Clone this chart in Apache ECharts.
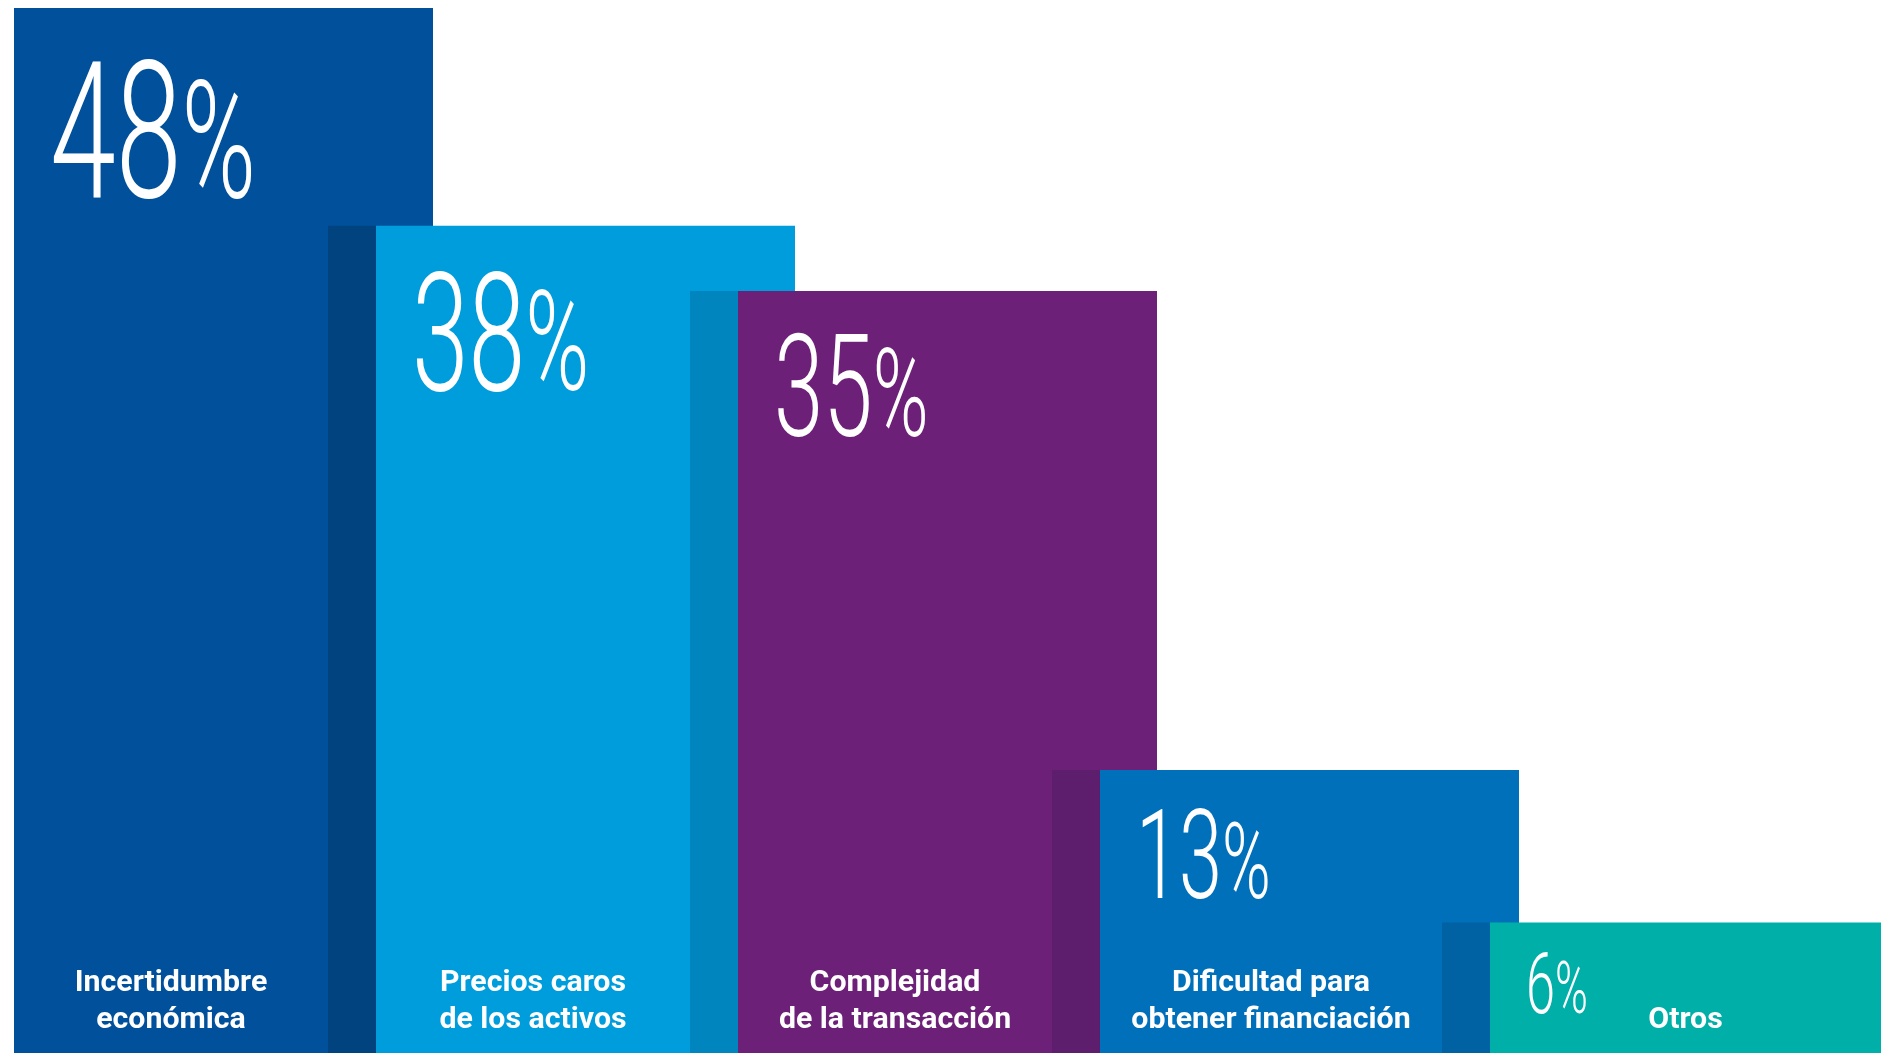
<!DOCTYPE html>
<html>
<head>
<meta charset="utf-8">
<title>Obstáculos para cerrar operaciones</title>
<script src="https://cdn.jsdelivr.net/npm/echarts@6/dist/echarts.min.js"></script>
<style>
  html, body { margin: 0; padding: 0; background: #ffffff; }
  #chart { width: 1893px; height: 1053px; }
</style>
</head>
<body>
<div id="chart"></div>
<script>
// Share of respondents citing each obstacle (%)
const categories = [
  'Incertidumbre\neconómica',
  'Precios caros\nde los activos',
  'Complejidad\nde la transacción',
  'Dificultad para\nobtener financiación',
  'Otros'
];
const shares = [48, 38, 35, 13, 6];

// Styling
const barColors  = ['#00509B', '#009DDC', '#6D2077', '#0070BA', '#00AFA8'];
const foldColors = [null, '#00437F', '#0085BE', '#5D1F6D', '#0061A3'];
const figureHeights = [136, 117, 102, 89, 60];   // digit height of each big figure, px

const MAIN_RATIO = 419 / 362;   // bar width relative to the category band
const FOLD_RATIO = 48 / 362;    // darker fold strip on the left of each bar
const LAST_INSET = 28;          // last bar starts a little later to leave room for the label before it
const FIG_SCALE_X = 0.62;       // condensed look for the figures
const PCT_SIZE = 0.85;          // percent sign relative to the digits
const LABEL_SCALE_X = 1.01;
const MIDDLE_TO_BASELINE = 0.255;
const CAP_RATIO = 0.711;

const measureCtx = document.createElement('canvas').getContext('2d');
function textWidth(str, font) {
  measureCtx.font = font;
  return measureCtx.measureText(str).width;
}

const n = shares.length;

function leftEdge(api, idx) {
  const band = api.size([1, 0])[0];
  const c = api.coord([idx, 0])[0];
  let l = c - band * MAIN_RATIO / 2;
  if (idx === n - 1) l += LAST_INSET;
  return l;
}

function renderItem(params, api) {
  const i = params.dataIndex;
  const v = api.value(1);
  const band = api.size([1, 0])[0];
  const mainW = band * MAIN_RATIO;
  const foldW = band * FOLD_RATIO;
  const topPt = api.coord([i, v]);
  const basePt = api.coord([i, 0]);
  const left = leftEdge(api, i);
  const right = basePt[0] + mainW / 2;
  const top = topPt[1];
  const bottom = basePt[1];
  const visRight = i < n - 1 ? leftEdge(api, i + 1) - foldW : right;

  const children = [];
  if (i > 0) {
    children.push({
      type: 'rect',
      shape: { x: left - foldW, y: top, width: foldW, height: bottom - top },
      style: { fill: foldColors[i] }
    });
  }
  children.push({
    type: 'rect',
    shape: { x: left, y: top, width: right - left, height: bottom - top },
    style: { fill: barColors[i] }
  });

  // big percentage figure
  const h = figureHeights[i];
  const fs = h / CAP_RATIO;
  const pfs = fs * PCT_SIZE;
  const family = 'Roboto, "Noto Sans", sans-serif';
  const digits = String(v);
  const x0 = left + 36;
  const baseline = top + 0.3 * h + 13 + h;
  const dW = textWidth(digits, '300 ' + fs + 'px ' + family);
  children.push({
    type: 'text',
    x: x0,
    y: baseline - MIDDLE_TO_BASELINE * fs,
    scaleX: FIG_SCALE_X,
    style: {
      text: digits, fill: '#ffffff',
      fontSize: fs, fontWeight: 300, fontFamily: family,
      align: 'left', verticalAlign: 'middle'
    }
  });
  children.push({
    type: 'text',
    x: x0 + dW * FIG_SCALE_X,
    y: baseline - MIDDLE_TO_BASELINE * pfs,
    scaleX: FIG_SCALE_X,
    style: {
      text: '%', fill: '#ffffff',
      fontSize: pfs, fontWeight: 300, fontFamily: family,
      align: 'left', verticalAlign: 'middle'
    }
  });

  // category name at the foot of the bar
  children.push({
    type: 'text',
    x: (left + visRight) / 2,
    y: bottom - 13.75,
    scaleX: LABEL_SCALE_X,
    style: {
      text: categories[i], fill: '#ffffff',
      fontSize: 30, fontWeight: 'bold', fontFamily: family,
      lineHeight: 37.5,
      align: 'center', verticalAlign: 'bottom'
    }
  });

  return { type: 'group', children };
}

const chart = echarts.init(document.getElementById('chart'), null, { renderer: 'canvas' });
chart.setOption({
  animation: false,
  backgroundColor: '#ffffff',
  grid: { left: 42.5, right: 40.5, top: 8, bottom: 0 },
  xAxis: { type: 'category', data: categories, show: false },
  yAxis: { type: 'value', min: 0, max: 48, show: false },
  series: [{
    type: 'custom',
    renderItem: renderItem,
    data: shares.map((v, i) => [i, v]),
    encode: { x: 0, y: 1 },
    clip: false
  }]
});
</script>
</body>
</html>
